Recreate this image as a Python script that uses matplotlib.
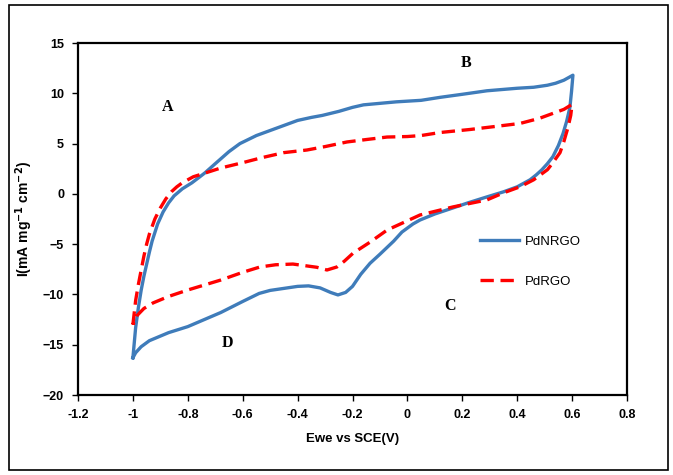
import numpy as np
import matplotlib.pyplot as plt
from matplotlib.patches import Rectangle

# PdNRGO: anodic sweep (-1.0 -> 0.6) then cathodic sweep back
nrgo_fwd_x = [-1.0, -0.995, -0.99, -0.98, -0.97, -0.96, -0.95, -0.94, -0.93, -0.91, -0.89, -0.87,
              -0.85, -0.82, -0.785, -0.756, -0.737, -0.70, -0.65, -0.61, -0.55, -0.50, -0.45,
              -0.40, -0.35, -0.31, -0.25, -0.20, -0.16, -0.10, -0.04, 0.05, 0.12, 0.20, 0.29,
              0.40, 0.46, 0.51, 0.54, 0.57, 0.603]
nrgo_fwd_y = [-16.3, -14.8, -13.3, -11.3, -9.6, -8.2, -7.0, -5.8, -4.7, -3.0, -1.8, -0.9,
              -0.2, 0.5, 1.1, 1.7, 2.1, 3.0, 4.2, 5.0, 5.8, 6.3, 6.8,
              7.3, 7.6, 7.8, 8.2, 8.6, 8.85, 9.0, 9.15, 9.3, 9.6, 9.9, 10.25,
              10.5, 10.6, 10.8, 11.0, 11.3, 11.8]
nrgo_rev_x = [0.603, 0.598, 0.592, 0.58, 0.567, 0.55, 0.53, 0.51, 0.49, 0.47, 0.447, 0.40,
              0.35, 0.29, 0.22, 0.166, 0.10, 0.046, 0.02, -0.02, -0.05, -0.10, -0.136, -0.17,
              -0.20, -0.225, -0.253, -0.28, -0.318, -0.36, -0.40, -0.45, -0.50, -0.54, -0.60,
              -0.68, -0.74, -0.80, -0.87, -0.94, -0.97, -0.99, -1.0]
nrgo_rev_y = [11.8, 10.2, 8.6, 7.2, 6.0, 4.8, 3.7, 3.0, 2.4, 1.9, 1.4, 0.7,
              0.2, -0.3, -0.9, -1.4, -2.0, -2.6, -3.0, -3.8, -4.7, -6.0, -6.9, -8.0,
              -9.2, -9.8, -10.05, -9.8, -9.35, -9.15, -9.2, -9.4, -9.6, -9.9, -10.7,
              -11.8, -12.5, -13.2, -13.8, -14.6, -15.2, -15.8, -16.3]

# PdRGO
rgo_fwd_x = [-1.0, -0.995, -0.99, -0.98, -0.97, -0.96, -0.95, -0.94, -0.92, -0.90, -0.88, -0.86,
             -0.84, -0.82, -0.80, -0.78, -0.737, -0.68, -0.60, -0.53, -0.45, -0.366, -0.30,
             -0.22, -0.15, -0.074, 0.0, 0.05, 0.119, 0.228, 0.32, 0.41, 0.48, 0.53, 0.57, 0.60]
rgo_fwd_y = [-13.0, -11.8, -10.6, -9.0, -7.6, -6.2, -5.0, -4.0, -2.5, -1.4, -0.5, 0.2,
             0.7, 1.1, 1.4, 1.7, 2.07, 2.57, 3.1, 3.6, 4.1, 4.36, 4.7,
             5.16, 5.4, 5.65, 5.7, 5.8, 6.1, 6.4, 6.7, 7.0, 7.5, 8.0, 8.4, 8.9]
rgo_rev_x = [0.60, 0.595, 0.585, 0.57, 0.556, 0.53, 0.51, 0.48, 0.46, 0.41, 0.35, 0.29,
             0.166, 0.046, -0.074, -0.136, -0.198, -0.23, -0.257, -0.293, -0.33, -0.417,
             -0.48, -0.537, -0.60, -0.68, -0.80, -0.87, -0.927, -0.96, -0.985, -1.0]
rgo_rev_y = [8.9, 7.8, 6.6, 5.2, 4.1, 3.1, 2.4, 1.8, 1.4, 0.7, 0.1, -0.6,
             -1.3, -2.1, -3.6, -4.8, -5.9, -6.7, -7.27, -7.57, -7.3, -6.98,
             -7.05, -7.27, -7.8, -8.57, -9.56, -10.2, -10.85, -11.4, -12.1, -13.0]

point_labels = ['A', 'B', 'C', 'D']
label_x = [-0.875, 0.213, 0.155, -0.654]
label_y = [8.6, 13.0, -11.2, -14.8]

xticks = [-1.2, -1, -0.8, -0.6, -0.4, -0.2, 0, 0.2, 0.4, 0.6, 0.8]
yticks = [-20, -15, -10, -5, 0, 5, 10, 15]

plt.rcParams['font.family'] = ['Liberation Sans', 'DejaVu Sans']

fig = plt.figure(figsize=(6.73, 4.75), dpi=100)
fig.patches.append(Rectangle((9 / 673, 5 / 475), 659 / 673, 465 / 475, transform=fig.transFigure,
                             fill=False, edgecolor='black', linewidth=1.2))
ax = fig.add_axes([78 / 673, 80 / 475, 549 / 673, 352 / 475])

blue = '#3f7cba'
ax.plot(nrgo_fwd_x + nrgo_rev_x[1:], nrgo_fwd_y + nrgo_rev_y[1:], color=blue, lw=2.4,
        solid_joinstyle='round', label='PdNRGO')
ax.plot(rgo_fwd_x + rgo_rev_x[1:], rgo_fwd_y + rgo_rev_y[1:], color='#ff0000', lw=2.4,
        ls=(0, (4, 2)), label='PdRGO')

for t, x, y in zip(point_labels, label_x, label_y):
    ax.text(x, y, t, family='Liberation Serif', fontweight='bold', fontsize=11.5,
            ha='center', va='center')

ax.set_xlim(-1.2, 0.8)
ax.set_ylim(-20, 15)
ax.set_xticks(xticks)
ax.set_yticks(yticks)
ax.set_xticklabels([f'{v:g}' for v in xticks])
ax.tick_params(direction='out', length=4, width=1, labelsize=9, pad=6)
for lab in ax.get_xticklabels() + ax.get_yticklabels():
    lab.set_fontweight('bold')
for s in ax.spines.values():
    s.set_linewidth(1.6)

ax.set_xlabel('Ewe vs SCE(V)', fontweight='bold', fontsize=9.5, labelpad=9)
ax.set_ylabel(r'I(mA mg$^{\mathbf{-1}}$ cm$^{\mathbf{-2}}$)', fontweight='bold', fontsize=10, labelpad=6)

ax.legend(loc='center left', bbox_to_anchor=(0.71, 0.378), frameon=False, fontsize=9.5,
          handlelength=3.0, labelspacing=2.1, handletextpad=0.4)

plt.savefig('out.png', dpi=100)
